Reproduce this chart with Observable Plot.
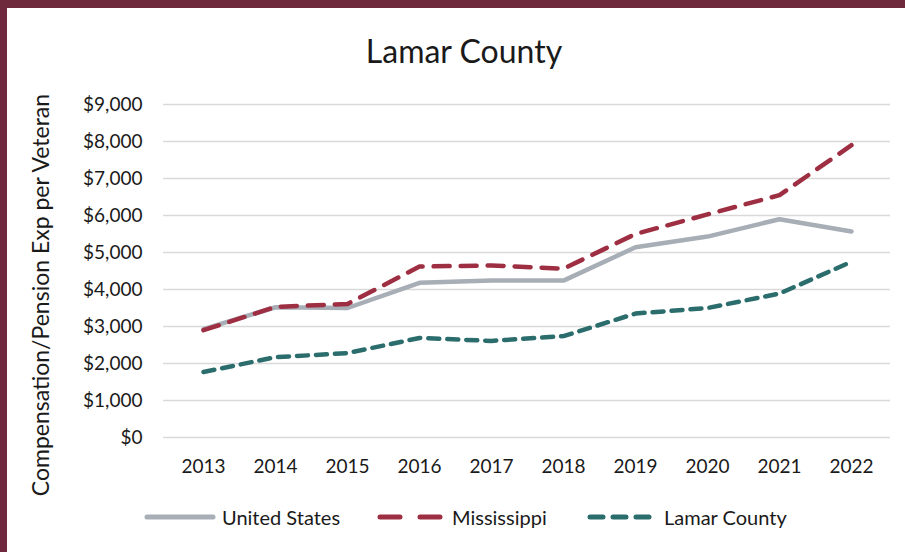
<!DOCTYPE html>
<html>
<head>
<meta charset="utf-8">
<script src="https://cdn.jsdelivr.net/npm/d3@7"></script>
<script src="https://cdn.jsdelivr.net/npm/@observablehq/plot@0.6"></script>
<style>
  html, body { margin: 0; padding: 0; background: #fff; }
  #page { position: relative; width: 905px; height: 552px; box-sizing: border-box;
          border-top: 8px solid #6E2A3C; border-left: 7px solid #6E2A3C; overflow: hidden;
          font-family: Lato, sans-serif; color: #1a1a1a; }
  #title { position: absolute; left: -7px; top: 23px; width: 928px; text-align: center;
           font-size: 32px; font-family: Lato, sans-serif; }
  #chart { position: absolute; left: -7px; top: -8px; }
  #legend { position: absolute; top: 496px; left: -7px; width: 905px; height: 30px; font-size: 20px; }
  .sw { position: absolute; top: 0; }
  .lab { position: absolute; top: 0; line-height: 26px; white-space: nowrap; }
</style>
</head>
<body>
<div id="page">
  <div id="title">Lamar County</div>
  <div id="chart"></div>
  <div id="legend"></div>
</div>
<script>
const years = ["2013","2014","2015","2016","2017","2018","2019","2020","2021","2022"];
const unitedStates = [2930, 3520, 3500, 4180, 4240, 4240, 5140, 5430, 5900, 5570];
const mississippi  = [2900, 3530, 3610, 4620, 4650, 4560, 5500, 6030, 6550, 7900];
const lamarCounty  = [1770, 2170, 2280, 2690, 2610, 2740, 3350, 3500, 3890, 4750];
const seriesNames = ["United States", "Mississippi", "Lamar County"];
const yTicks = [0, 1000, 2000, 3000, 4000, 5000, 6000, 7000, 8000, 9000];

const colors = { "United States": "#A7AEB6", "Mississippi": "#9E2F43", "Lamar County": "#2B6D6C" };
const dashes = { "United States": null, "Mississippi": "16,11", "Lamar County": "11,8" };

const rows = [];
years.forEach((yr, i) => {
  rows.push({ year: yr, value: unitedStates[i], series: "United States" });
  rows.push({ year: yr, value: mississippi[i], series: "Mississippi" });
  rows.push({ year: yr, value: lamarCounty[i], series: "Lamar County" });
});

const lineMarks = seriesNames.map(s => Plot.line(rows.filter(d => d.series === s), {
  x: "year", y: "value", stroke: colors[s], strokeWidth: 4.5,
  strokeDasharray: dashes[s], strokeLinecap: "round", strokeLinejoin: "round"
}));

const chart = Plot.plot({
  width: 905, height: 500,
  marginTop: 104, marginBottom: 63, marginLeft: 163, marginRight: 15,
  style: { fontFamily: "Lato, sans-serif", fontSize: "18px", color: "#1a1a1a", background: "transparent", overflow: "visible" },
  x: { type: "point", domain: years, padding: 0.5, label: null },
  y: { domain: [0, 9000], ticks: yTicks, label: null },
  marks: [
    Plot.ruleY(yTicks, { stroke: "#D9D9D9", strokeWidth: 1.6 }),
    Plot.axisX({ tickSize: 0, tickPadding: 22, fontSize: 19 }),
    Plot.axisY(yTicks, { tickSize: 0, tickPadding: 21, tickFormat: d3.format("$,"), fontSize: 19 }),
    Plot.text(["Compensation/Pension Exp per Veteran"], {
      frameAnchor: "left", textAnchor: "middle", dx: -122, dy: 24, rotate: -90, fontSize: 23, fill: "#1a1a1a"
    }),
    ...lineMarks
  ]
});
document.getElementById("chart").appendChild(chart);

// Legend
const legendItems = [
  { name: "United States", x1: 147, x2: 213, tx: 222, dash: null },
  { name: "Mississippi", x1: 380, x2: 440, tx: 452, dash: "20,20" },
  { name: "Lamar County", x1: 590, x2: 650, tx: 664, dash: "13,10" }
];
const legend = document.getElementById("legend");
legendItems.forEach(it => {
  const svg = d3.create("svg").attr("class", "sw")
    .attr("width", it.x2 - it.x1 + 10).attr("height", 26)
    .style("left", (it.x1 - 5) + "px");
  svg.append("line").attr("x1", 5).attr("x2", 5 + it.x2 - it.x1).attr("y1", 13).attr("y2", 13)
    .attr("stroke", colors[it.name]).attr("stroke-width", 5)
    .attr("stroke-linecap", "round")
    .attr("stroke-dasharray", it.dash);
  legend.appendChild(svg.node());
  const span = document.createElement("span");
  span.className = "lab";
  span.style.left = it.tx + "px";
  span.textContent = it.name;
  legend.appendChild(span);
});
</script>
</body>
</html>
